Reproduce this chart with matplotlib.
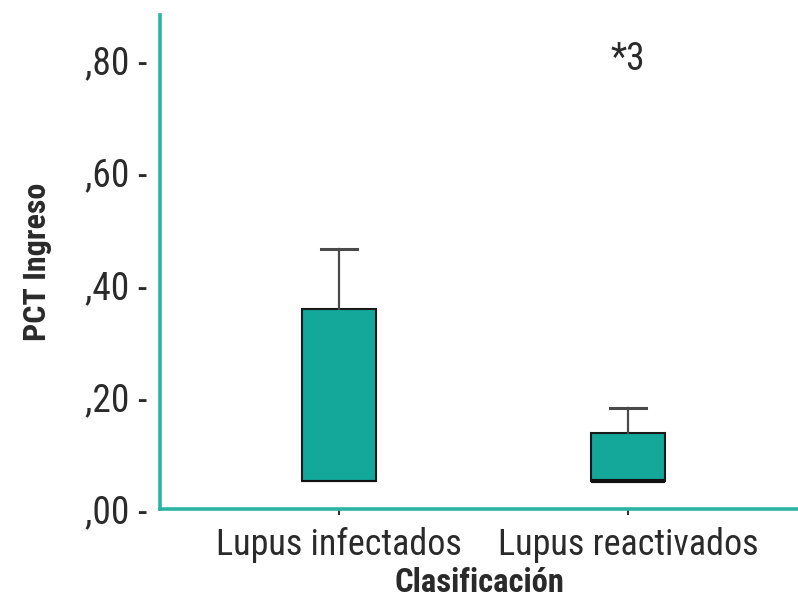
import matplotlib.pyplot as plt
from matplotlib import font_manager

# ---------------------- datos ----------------------
categorias = ["Lupus infectados", "Lupus reactivados"]
q1 = [0.05, 0.05]
q3 = [0.357, 0.136]
mediana = [0.05, 0.05]
bigote_sup = [0.464, 0.18]
y_ticks = [0.0, 0.2, 0.4, 0.6, 0.8]
y_tick_labels = [",00 -", ",20 -", ",40 -", ",60 -", ",80 -"]
nota = "*3"

# fuente estrecha tipo Helvetica Condensed, la primera que esté instalada
names = {f.name for f in font_manager.fontManager.ttflist}
candidatas = ["Nimbus Sans Narrow", "Liberation Sans Narrow", "Arial Narrow",
              "Roboto Condensed", "Archivo Narrow", "Barlow Semi Condensed"]
fam = next((c for c in candidatas if c in names), "DejaVu Sans")
plt.rcParams["font.family"] = [fam, "DejaVu Sans"]

verde = "#14a89b"
texto = "#2a2a2a"

fig = plt.figure(figsize=(7.98, 6.02), dpi=100)
ax = fig.add_axes([0.2005, 0.1545, 0.7995, 0.8205])

stats = []
for i, c in enumerate(categorias):
    stats.append({"label": c, "med": mediana[i], "q1": q1[i], "q3": q3[i],
                  "whislo": q1[i], "whishi": bigote_sup[i], "fliers": []})

bp = ax.bxp(stats, positions=[1, 2], widths=0.256, capwidths=0.125,
            patch_artist=True, showfliers=False,
            boxprops=dict(facecolor=verde, edgecolor="#1a1a1a", linewidth=1.5),
            whiskerprops=dict(color="#4a4a4a", linewidth=1.6),
            capprops=dict(color="#4a4a4a", linewidth=2.2),
            medianprops=dict(color="#111111", linewidth=3.0))
# la mediana del primer grupo coincide con el borde inferior
bp["medians"][0].set_linewidth(1.5)
for cap in bp["caps"][0::2]:
    cap.set_visible(False)

ax.set_xlim(0.381, 2.588)
ax.set_ylim(0, 0.88)

ax.spines["top"].set_visible(False)
ax.spines["right"].set_visible(False)
for s in ("left", "bottom"):
    ax.spines[s].set_color("#2bb3a4")
    ax.spines[s].set_linewidth(2.6)

ax.set_yticks(y_ticks)
ax.set_yticklabels(y_tick_labels, fontsize=27, color=texto)
ax.tick_params(axis="y", length=0, pad=9)
ax.set_xticks([1, 2])
ax.set_xticklabels(categorias, fontsize=26, color=texto)
ax.tick_params(axis="x", length=4, width=1.5, color="#333333", pad=9)

ax.set_ylabel("PCT Ingreso", fontsize=23, fontweight="bold", color=texto, labelpad=24)
ax.set_xlabel("Clasificación", fontsize=23.5, fontweight="bold", color=texto, labelpad=3)

ax.text(2, 0.80, nota, fontsize=27, color=texto, ha="center", va="center")

fig.savefig("out.png", dpi=100)
